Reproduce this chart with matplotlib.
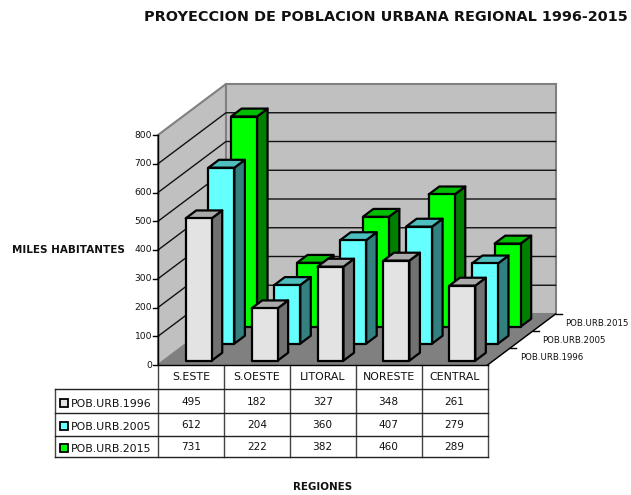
import matplotlib
matplotlib.use("Agg")
import matplotlib.pyplot as plt
from matplotlib.patches import Polygon, Rectangle

regions = ["S.ESTE", "S.OESTE", "LITORAL", "NORESTE", "CENTRAL"]
series_names = ["POB.URB.1996", "POB.URB.2005", "POB.URB.2015"]
pob_1996 = [495, 182, 327, 348, 261]
pob_2005 = [612, 204, 360, 407, 279]
pob_2015 = [731, 222, 382, 460, 289]
y_ticks = [0, 100, 200, 300, 400, 500, 600, 700, 800]

series_values = [pob_1996, pob_2005, pob_2015]
front_cols = ["#E3E3E3", "#66FFFF", "#00FF00"]
top_cols = ["#AAAAAA", "#4DBFBF", "#00BF00"]
side_cols = ["#717171", "#338080", "#008000"]
key_cols = ["#E3E3E3", "#66FFFF", "#00FF00"]

X0, Y0 = 158.0, 365.0
CAT_W = 65.9
DX, DY = 68.0, 51.0
PX_PER_UNIT = 230.0 / 800.0

BAR_X0 = 0.333
BAR_W = 0.394
BAR_DZ = 0.155
ROW_Z0 = 0.085


def proj(x, v, z):
    return (X0 + x * CAT_W + z * DX, Y0 - v * PX_PER_UNIT - z * DY)


fig = plt.figure(figsize=(6.31, 4.95), dpi=100)
ax = fig.add_axes([0, 0, 1, 1])
ax.set_xlim(0, 631)
ax.set_ylim(495, 0)
ax.axis("off")

n = len(regions)
ymax = y_ticks[-1]
ax.add_patch(Polygon([proj(0, 0, 0), proj(0, ymax, 0), proj(0, ymax, 1), proj(0, 0, 1)],
                     fc="#C0C0C0", ec="#808080", lw=1.5, zorder=1))
ax.add_patch(Polygon([proj(0, 0, 1), proj(0, ymax, 1), proj(n, ymax, 1), proj(n, 0, 1)],
                     fc="#C0C0C0", ec="#808080", lw=1.5, zorder=1))
ax.add_patch(Polygon([proj(0, 0, 0), proj(n, 0, 0), proj(n, 0, 1), proj(0, 0, 1)],
                     fc="#808080", ec="#808080", lw=1, zorder=1.5))

for t in y_ticks[1:-1]:
    a, b, c = proj(0, t, 0), proj(0, t, 1), proj(n, t, 1)
    ax.plot([a[0], b[0], c[0]], [a[1], b[1], c[1]], color="#111111", lw=1.0, zorder=2)

# value axis
a, b = proj(0, 0, 0), proj(0, ymax, 0)
ax.plot([a[0], b[0]], [a[1], b[1]], color="black", lw=1, zorder=3)
for t in y_ticks:
    p = proj(0, t, 0)
    ax.plot([p[0] - 5, p[0]], [p[1], p[1]], color="black", lw=1, zorder=3)
    ax.text(p[0] - 6, p[1], str(t), ha="right", va="center", fontsize=6.6, color="#111111")

# depth axis
a, b = proj(n, 0, 0), proj(n, 0, 1)
ax.plot([a[0], b[0]], [a[1], b[1]], color="black", lw=1, zorder=3)
for i, name in enumerate(series_names):
    z = (i + 1) / 3
    p = proj(n, 0, z)
    ax.plot([p[0], p[0] + 6], [p[1], p[1]], color="black", lw=1, zorder=3)
    ax.text(p[0] + 9.5, p[1] + 9.5, name, ha="left", va="center", fontsize=6.2, color="#111111")

# bars: back row first
for s in [2, 1, 0]:
    z0 = ROW_Z0 + s / 3
    z1 = z0 + BAR_DZ
    for c, v in enumerate(series_values[s]):
        x0 = c + BAR_X0
        x1 = x0 + BAR_W
        zo = 5 + (2 - s) * 0.5
        ax.add_patch(Polygon([proj(x1, 0, z0), proj(x1, v, z0), proj(x1, v, z1), proj(x1, 0, z1)],
                             fc=side_cols[s], ec="black", lw=1.6, joinstyle="round", zorder=zo))
        ax.add_patch(Polygon([proj(x0, v, z0), proj(x1, v, z0), proj(x1, v, z1), proj(x0, v, z1)],
                             fc=top_cols[s], ec="black", lw=1.6, joinstyle="round", zorder=zo))
        ax.add_patch(Polygon([proj(x0, 0, z0), proj(x1, 0, z0), proj(x1, v, z0), proj(x0, v, z0)],
                             fc=front_cols[s], ec="black", lw=1.6, joinstyle="round", zorder=zo))

# data table
row_y = [Y0, 389.3, 413, 436, 456.7]
table_left = 54.5
col_x = [X0 + i * CAT_W for i in range(n + 1)]
for x in col_x:
    ax.plot([x, x], [row_y[0], row_y[-1]], color="#444444", lw=1, zorder=3)
ax.plot([table_left, table_left], [row_y[1], row_y[-1]], color="#444444", lw=1, zorder=3)
ax.plot([X0, col_x[-1]], [row_y[0], row_y[0]], color="black", lw=1, zorder=3)
for y in row_y[1:]:
    ax.plot([table_left, col_x[-1]], [y, y], color="#222222", lw=1, zorder=3)

for c, region in enumerate(regions):
    ax.text((col_x[c] + col_x[c + 1]) / 2, (row_y[0] + row_y[1]) / 2 - 0.5, region,
            ha="center", va="center", fontsize=7.9, color="#111111")
for s in range(3):
    yc = (row_y[s + 1] + row_y[s + 2]) / 2
    ax.add_patch(Rectangle((59.5, yc - 2.5), 8, 8, fc=key_cols[s], ec="black", lw=1.3, zorder=4))
    ax.text(70.5, yc + 2.5, series_names[s], ha="left", va="center", fontsize=7.9, color="#111111")
    for c, v in enumerate(series_values[s]):
        ax.text((col_x[c] + col_x[c + 1]) / 2, yc + 0.5, str(v),
                ha="center", va="center", fontsize=7.6, color="#111111")

ax.text(386, 17, "PROYECCION DE POBLACION URBANA REGIONAL 1996-2015", ha="center", va="center",
        fontsize=10.4, fontweight="bold", color="#111111")
ax.text(68.5, 250, "MILES HABITANTES", ha="center", va="center",
        fontsize=7.5, fontweight="bold", color="#111111")
ax.text(323, 487, "REGIONES", ha="center", va="center",
        fontsize=7.4, fontweight="bold", color="#111111")

fig.savefig("out.png", dpi=100)
